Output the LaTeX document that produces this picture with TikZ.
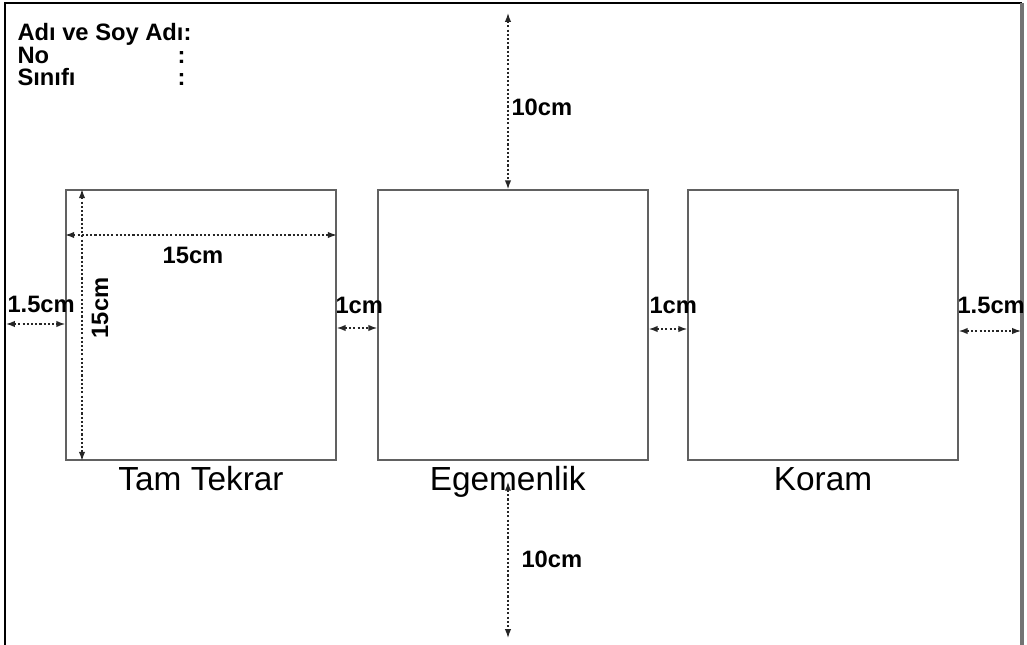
\documentclass[tikz,border=0pt]{standalone}
\usepackage{fontspec}
\setmainfont{Liberation Sans}
\usepackage{tikz}
\usetikzlibrary{arrows.meta,positioning}

\begin{document}
\begin{tikzpicture}[
            x = 0.02cm, y = -0.02cm, % one unit = one pixel
            > = {Latex[length=5pt,width=3.6pt]}, % arrow head style
            semithick % line style
        ]

        \tikzstyle{kutu}=[
            draw = black!62,
            line width = 0.9pt,
            minimum size = 5.4cm,
            inner sep = 0pt
        ]
        \tikzstyle{olcu}=[<->, draw = black!85, line width = 0.75pt, dash pattern = on 1.2pt off 1.2pt]
        \tikzstyle{yazi}=[inner sep = 0pt, font = \fontsize{13.5}{15}\selectfont\bfseries]
        \tikzstyle{baslik}=[inner sep = 0pt, anchor = base west, font = \fontsize{13.5}{16}\selectfont\bfseries]
        \tikzstyle{isim}=[inner sep = 0pt, text height = 13.5pt, text depth = 4pt, font = \fontsize{19}{21}\selectfont]

        \useasboundingbox (0,0) rectangle (1027,645);

        % Frame
        \draw[black, line width = 0.8pt] (5,645) -- (5,3) -- (1022,3);
        \draw[black!55, line width = 1.8pt] (1022,3) -- (1022,645);

        % Header
        \node[baslik] (ad) [at={(17,41)}] {Adı ve Soy Adı:};
        \node[baslik] (no) [at={(17,64)}] {No};
        \node[baslik] (nok) [at={(177,64)}] {:};
        \node[baslik] (sinif) [at={(17,86)}] {Sınıfı};
        \node[baslik] (sinifk) [at={(177,86)}] {:};

        % Boxes
        \node[kutu] (b1) [at={(201,325)}] {};
        \node[kutu] (b2) [at={(513,325)}] {};
        \node[kutu] (b3) [at={(823,325)}] {};
        \node[isim, below = 3pt of b1] (e1) {Tam Tekrar};
        \node[isim, below = 3pt of b2, xshift = -3pt] (e2) {Egemenlik};
        \node[isim, below = 3pt of b3] (e3) {Koram};

        % Points
        \coordinate (ustuc) at (508,13);
        \coordinate (altuc) at (508,638);
        \coordinate (yatay) at (0,235);
        \coordinate (dikey) at (82,0);
        \coordinate (solkenar) at (6,324);
        \coordinate (ara1) at (0,328);
        \coordinate (ara2) at (0,329);
        \coordinate (sagkenar) at (1021,331);

        % Measures
        \draw[olcu] (ustuc) -- (ustuc |- b2.north);
        \draw[olcu] (ustuc |- e2.center) -- (altuc);
        \draw[olcu] (b1.west |- yatay) -- (b1.east |- yatay);
        \draw[olcu] (dikey |- b1.north) -- (dikey |- b1.south);
        \draw[olcu] (solkenar) -- (b1.west |- solkenar);
        \draw[olcu] (b1.east |- ara1) -- (b2.west |- ara1);
        \draw[olcu] (b2.east |- ara2) -- (b3.west |- ara2);
        \draw[olcu] (b3.east |- sagkenar) -- (sagkenar);

        % Labels
        \node[yazi, anchor = west] (u10) [at={(511,107)}] {10cm};
        \node[yazi, anchor = west] (a10) [at={(521,559)}] {10cm};
        \node[yazi] (y15) [at={(193,255)}] {15cm};
        \node[yazi, rotate = 90] (d15) [at={(100,308)}] {15cm};
        \node[yazi, anchor = west] (s15) [at={(7,304)}] {1.5cm};
        \node[yazi, anchor = west] (a1) [at={(335,305)}] {1cm};
        \node[yazi, anchor = west] (a2) [at={(649,305)}] {1cm};
        \node[yazi, anchor = west] (r15) [at={(957,305)}] {1.5cm};
      \end{tikzpicture}
\end{document}
